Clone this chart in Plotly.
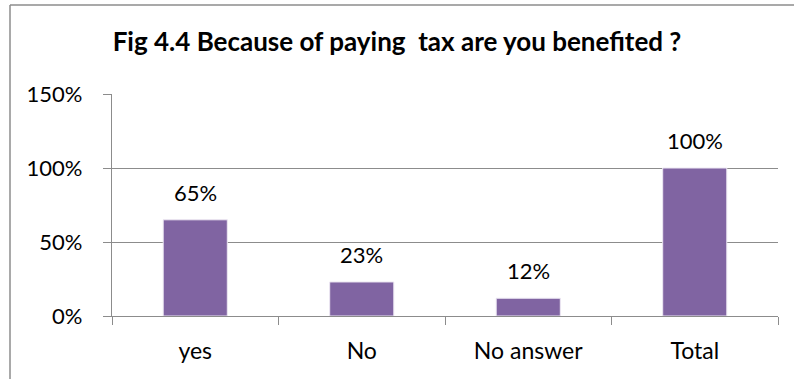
import plotly.graph_objects as go

categories = ["yes", "No", "No answer", "Total"]
values = [0.65, 0.23, 0.12, 1.00]
labels = ["65%", "23%", "12%", "100%"]
title_text = "<b>Fig 4.4 Because of paying  tax are you benefited ?</b>"

FONT = "Lato, Carlito, Calibri, sans-serif"
W, H = 794, 379
ML, MR, MT, MB = 112, 16, 94, 63
pw = W - ML - MR
ph = H - MT - MB

fig = go.Figure()
fig.add_trace(go.Bar(
    x=categories, y=values, width=0.385,
    marker=dict(color="#8064A2", line=dict(color="#EDE8F3", width=1)),
    hoverinfo="skip",
))

for c, v, t in zip(categories, values, labels):
    fig.add_annotation(x=c, y=v, text=t, showarrow=False, yanchor="bottom",
                       yshift=12, font=dict(family=FONT, size=22, color="#000000"))

# outer chart frame (left and top edges)
def px_x(p):
    return (p - ML) / pw

def px_y(p):
    return (H - MB - p) / ph

fig.add_shape(type="line", xref="paper", yref="paper",
              x0=px_x(10), x1=px_x(10), y0=px_y(5), y1=px_y(H + 5),
              line=dict(color="#8C8C8C", width=1.5))
fig.add_shape(type="line", xref="paper", yref="paper",
              x0=px_x(10), x1=px_x(W + 5), y0=px_y(5), y1=px_y(5),
              line=dict(color="#8C8C8C", width=1.5))

fig.update_layout(
    width=W, height=H,
    margin=dict(l=ML, r=MR, t=MT, b=MB),
    paper_bgcolor="white", plot_bgcolor="white",
    showlegend=False,
    title=dict(text=title_text, x=0.5, xanchor="center", y=1 - 42 / H, yanchor="middle",
               font=dict(family=FONT, size=26, color="#000000")),
    font=dict(family=FONT, size=22, color="#000000"),
)
fig.update_yaxes(
    range=[0, 1.5], dtick=0.5, tickformat=".0%",
    showgrid=True, gridcolor="#8C8C8C", gridwidth=1.3,
    showline=True, linecolor="#8C8C8C", linewidth=1.3,
    ticks="outside", ticklen=8, tickcolor="#8C8C8C", tickwidth=1.3,
    zeroline=False, tickfont=dict(family=FONT, size=22),
    ticklabelstandoff=16,
)
fig.update_xaxes(
    showline=True, linecolor="#8C8C8C", linewidth=1.3,
    ticks="outside", ticklen=8, tickcolor="#8C8C8C", tickwidth=1.3,
    tickson="boundaries", showgrid=False,
    tickfont=dict(family=FONT, size=23),
    ticklabelstandoff=14,
)

fig.write_html("out.html")
